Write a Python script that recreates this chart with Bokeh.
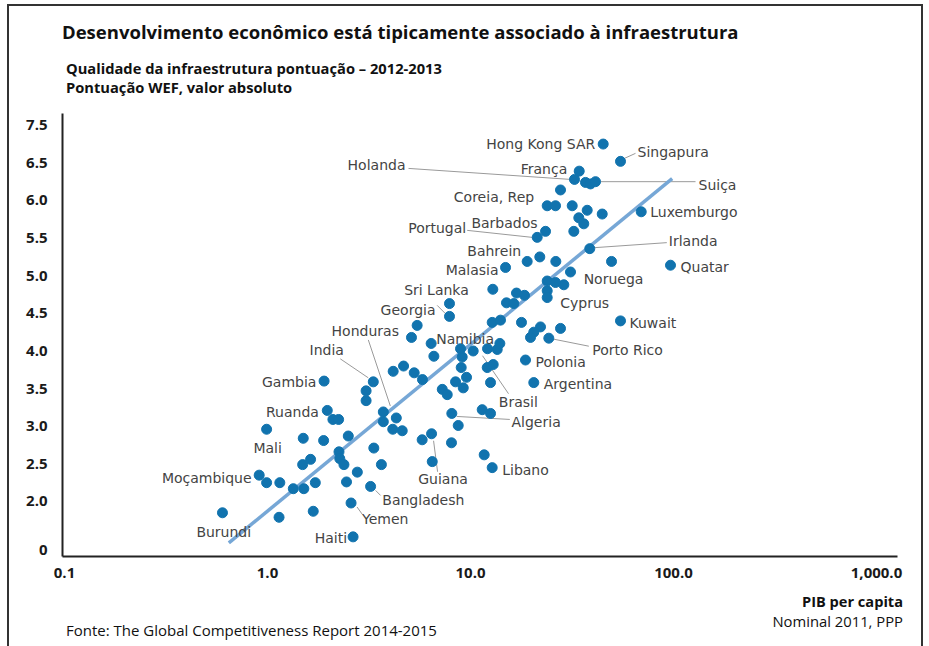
import math
from bokeh.plotting import figure
from bokeh.models import Range1d, FixedTicker, ColumnDataSource, Div
from bokeh.layouts import column
from bokeh.core.properties import value
from bokeh.embed import file_html
from bokeh.resources import INLINE

# ---------------- data (GDP per capita, thousand USD PPP ; WEF infrastructure score)
gdp = [0.60, 1.14, 1.68, 0.91, 0.99, 1.15, 1.34, 1.51, 1.72, 0.99,
       1.50, 1.89, 1.49, 1.63, 1.90, 1.97, 2.10, 2.24, 2.50, 2.25,
       2.27, 2.38, 3.34, 3.64, 2.77, 2.45, 3.22, 2.58, 2.64, 3.32,
       3.06, 3.06, 4.16, 4.68, 5.28, 5.80, 3.72, 3.72, 4.31, 4.14,
       4.61, 5.78, 6.43, 6.48, 8.06, 6.60, 6.40, 7.26, 7.68, 8.09,
       8.70, 8.44, 9.21, 9.56, 9.00, 9.10, 8.93, 10.31, 12.13, 13.54,
       13.95, 12.09, 12.94, 12.55, 11.42, 12.55, 11.68, 12.79, 18.66, 20.50,
       5.46, 5.12, 7.88, 7.88, 12.88, 12.79, 14.05, 15.04, 16.35, 16.85,
       18.45, 17.83, 22.12, 20.50, 19.75, 24.31, 27.76, 23.87, 23.87, 23.87,
       26.23, 28.82, 31.09, 14.88, 19.02, 21.95, 26.32, 38.69, 49.51, 96.65,
       54.82, 23.42, 21.31, 32.28, 36.14, 34.16, 37.57, 44.55, 69.34, 23.87,
       26.23, 31.70, 27.76, 32.53, 34.32, 36.85, 39.00, 41.29, 45.05, 54.82]
score = [1.85, 1.79, 1.87, 2.35, 2.25, 2.25, 2.17, 2.17, 2.25, 2.96,
         2.84, 2.81, 2.49, 2.56, 3.60, 3.21, 3.09, 3.09, 2.87, 2.66,
         2.57, 2.49, 2.71, 2.49, 2.39, 2.26, 2.20, 1.98, 1.53, 3.59,
         3.47, 3.34, 3.73, 3.80, 3.71, 3.62, 3.19, 3.06, 3.11, 2.96,
         2.94, 2.82, 2.90, 2.53, 2.78, 3.93, 4.10, 3.49, 3.42, 3.17,
         3.01, 3.59, 3.51, 3.65, 3.78, 3.92, 4.03, 4.00, 4.03, 4.02,
         4.10, 3.78, 3.82, 3.58, 3.22, 3.17, 2.62, 2.45, 3.88, 3.58,
         4.34, 4.18, 4.63, 4.46, 4.82, 4.38, 4.41, 4.64, 4.63, 4.77,
         4.74, 4.38, 4.32, 4.25, 4.18, 4.17, 4.30, 4.80, 4.71, 4.93,
         4.91, 4.88, 5.05, 5.11, 5.19, 5.25, 5.19, 5.36, 5.19, 5.14,
         4.40, 5.59, 5.51, 5.59, 5.69, 5.77, 5.87, 5.82, 5.85, 5.93,
         5.93, 5.93, 6.14, 6.28, 6.39, 6.24, 6.22, 6.25, 6.75, 6.52]

# country labels and the (0-based) index of the point they name
label_names = ["Hong Kong SAR", "Singapura", "Holanda", "França", "Suiça", "Coreia, Rep",
               "Luxemburgo", "Barbados", "Portugal", "Irlanda", "Bahrein", "Malasia",
               "Quatar", "Noruega", "Sri Lanka", "Cyprus", "Georgia", "Kuwait",
               "Honduras", "Namibia", "India", "Porto Rico", "Polonia", "Argentina",
               "Gambia", "Brasil", "Ruanda", "Algeria", "Mali", "Moçambique",
               "Libano", "Guiana", "Bangladesh", "Yemen", "Burundi", "Haiti"]
label_point = [118, 119, 113, 114, 117, 109, 108, 101, 102, 97, 94, 93,
               99, 98, 74, 88, 73, 100, 36, 46, 29, 85, 68, 69,
               14, 58, 15, 49, 9, 3, 67, 42, 26, 27, 0, 28]

# trend line end points
trend_gdp = [0.645, 98.5]
trend_score = [1.45, 6.29]

x_ticks = [0.1, 1, 10, 100, 1000]
x_tick_labels = ["0.1", "1.0", "10.0", "100.0", "1,000.0"]
y_ticks = [1.35, 2.0, 2.5, 3.0, 3.5, 4.0, 4.5, 5.0, 5.5, 6.0, 6.5, 7.0]
y_tick_labels = ["0", "2.0", "2.5", "3.0", "3.5", "4.0", "4.5", "5.0", "5.5", "6.0", "6.5", "7.5"]

title = "Desenvolvimento econômico está tipicamente associado à infraestrutura"
subtitle1 = "Qualidade da infraestrutura pontuação – 2012-2013"
subtitle2 = "Pontuação WEF, valor absoluto"
source_note = "Fonte: The Global Competitiveness Report 2014-2015"
x_title1 = "PIB per capita"
x_title2 = "Nominal 2011, PPP"

# ---------------- layout (pixel offsets of labels / leader lines from their point)
label_layout = {
    "Hong Kong SAR": (-8, 0, "right"), "Singapura": (17, -9, "left"),
    "Holanda": (-169, -14, "right"), "França": (-12, -2, "right"),
    "Suiça": (103, 3.5, "left"), "Coreia, Rep": (-13, -9, "right"),
    "Luxemburgo": (9, 0.7, "left"), "Barbados": (-8, -8, "right"),
    "Portugal": (-71, -9.4, "right"), "Irlanda": (79, -7.6, "left"),
    "Bahrein": (-6, -10.7, "right"), "Malasia": (-7, 2.7, "right"),
    "Quatar": (10, 1.7, "left"), "Noruega": (2, 17.6, "center"),
    "Sri Lanka": (-24, 0.3, "right"), "Cyprus": (13, 5, "left"),
    "Georgia": (-14, -6, "right"), "Kuwait": (9, 2.6, "left"),
    "Honduras": (15.6, -81.3, "right"), "Namibia": (5, -4, "left"),
    "India": (-29.4, -32, "right"), "Porto Rico": (43.4, 12.3, "left"),
    "Polonia": (10, 2.4, "left"), "Argentina": (10, 1, "left"),
    "Gambia": (-7.7, 1, "right"), "Brasil": (11.3, 53.4, "left"),
    "Ruanda": (-8.4, 1.7, "right"), "Algeria": (59.7, 8.4, "left"),
    "Mali": (1, 18.3, "center"), "Moçambique": (-7.6, 2.4, "right"),
    "Libano": (10, 2.3, "left"), "Guiana": (11.5, 45, "center"),
    "Bangladesh": (11.7, 13.6, "left"), "Yemen": (11, 16, "left"),
    "Burundi": (1.3, 19.7, "center"), "Haiti": (-6, 1.6, "right"),
}
leader_layout = {
    "Holanda": (-4, 0, -166, -11), "Suiça": (5, 0, 100, 0),
    "Portugal": (-5, 0, -70, -7), "Irlanda": (5, -1, 77, -6),
    "Singapura": (4, -3, 15, -8), "Georgia": (-2.3, -1, -12.3, -11),
    "India": (-5, -4, -33, -23), "Honduras": (7, -6, -15, -72),
    "Porto Rico": (5, 1, 40, 8), "Brasil": (-5, 7, 21, 45),
    "Algeria": (5, 3, 58, 6), "Guiana": (2, 7, 6, 38),
    "Bangladesh": (5, 4, 10, 9), "Yemen": (6, 4, 11, 11),
}

CW = 912                 # content width inside the frame border
TOP_H, FIG_H, BOT_H = 94, 490, 56
ML, MR, MT, MB = 53, 24, 13, 34
X0, X1 = 0.09776, 1268.9
Y0, Y1 = 1.269, 7.156
frame_w = CW - ML - MR
frame_h = FIG_H - MT - MB
px_dec = frame_w / math.log10(X1 / X0)
px_unit = frame_h / (Y1 - Y0)

p = figure(width=CW, height=FIG_H, x_axis_type="log",
           x_range=Range1d(X0, X1), y_range=Range1d(Y0, Y1),
           output_backend="svg", toolbar_location=None,
           min_border_left=ML, min_border_right=MR, min_border_top=MT, min_border_bottom=MB,
           background_fill_color="white", border_fill_color="white", margin=0)
p.outline_line_color = None
p.grid.visible = False

for ax in (p.xaxis[0], p.yaxis[0]):
    ax.axis_line_color = "#222222"
    ax.axis_line_width = 2
    ax.major_tick_line_color = None
    ax.minor_tick_line_color = None
    ax.major_tick_in = 0
    ax.major_tick_out = 0
    ax.minor_tick_out = 0
    ax.major_label_text_font = "Open Sans"
    ax.major_label_text_font_size = "15px"
    ax.major_label_text_color = "#1a1a1a"
    ax.major_label_text_font_style = "bold"

p.xaxis.ticker = FixedTicker(ticks=x_ticks, minor_ticks=[])
p.xaxis.major_label_overrides = {t: s for t, s in zip(x_ticks, x_tick_labels)}
p.xaxis.major_label_standoff = 11
p.yaxis.ticker = FixedTicker(ticks=y_ticks, minor_ticks=[])
p.yaxis.major_label_overrides = {t: s for t, s in zip(y_ticks, y_tick_labels)}
p.yaxis.major_label_standoff = 15

# leader lines
lx0, ly0, lx1, ly1 = [], [], [], []
for name, idx in zip(label_names, label_point):
    if name in leader_layout:
        a, b, c, d = leader_layout[name]
        gx, gy = gdp[idx], score[idx]
        lx0.append(10 ** (math.log10(gx) + a / px_dec)); ly0.append(gy - b / px_unit)
        lx1.append(10 ** (math.log10(gx) + c / px_dec)); ly1.append(gy - d / px_unit)
p.segment(x0=lx0, y0=ly0, x1=lx1, y1=ly1, line_color="#9a9a9a", line_width=1)

# trend line
p.line(trend_gdp, trend_score, line_color="#76a7d6", line_width=3.5)

# points
p.scatter(gdp, score, size=10, fill_color="#1173ae", line_color="#1173ae")

# labels
src = ColumnDataSource(dict(
    x=[gdp[i] for i in label_point], y=[score[i] for i in label_point], t=label_names,
    dx=[label_layout[n][0] for n in label_names], dy=[label_layout[n][1] for n in label_names],
    al=[label_layout[n][2] for n in label_names]))
p.text(x="x", y="y", text="t", x_offset="dx", y_offset="dy", text_align="al",
       text_baseline="middle", text_font=value("DejaVu Sans"), text_font_size="14px",
       text_color="#444444", source=src)

def span(txt, top, size, bold=False, left=None, right=None, lh=20):
    pos = f"left:{left}px;" if left is not None else f"right:{right}px;"
    weight = "700" if bold else "400"
    return (f'<div style="position:absolute;{pos}top:{top}px;white-space:nowrap;'
            f"font-family:'Open Sans';font-size:{size}px;font-weight:{weight};"
            f'line-height:{lh}px;color:#111;">{txt}</div>')

top_html = ('<div style="position:relative;width:%dpx;height:%dpx;">' % (CW, TOP_H)
            + span(title, 15, 18.5, True, left=53, lh=22)
            + span(subtitle1, 52, 14.7, True, left=57, lh=20)
            + span(subtitle2, 71, 14.7, True, left=57, lh=20)
            + "</div>")
bot_html = ('<div style="position:relative;width:%dpx;height:%dpx;">' % (CW, BOT_H)
            + span(x_title1, 1, 14.6, True, right=18, lh=20)
            + span(x_title2, 21, 14.8, False, right=18, lh=20)
            + span(source_note, 30, 15, False, left=57, lh=20)
            + "</div>")

top_div = Div(text=top_html, width=CW, height=TOP_H, margin=0)
bot_div = Div(text=bot_html, width=CW, height=BOT_H, margin=0)

layout = column(top_div, p, bot_div, spacing=0, margin=0)
layout.styles = {"margin-left": "7px", "margin-top": "4px",
                 "border-left": "2px solid #333", "border-right": "2px solid #333",
                 "border-top": "2px solid #333"}

open("out.html", "w").write(file_html(layout, INLINE))
